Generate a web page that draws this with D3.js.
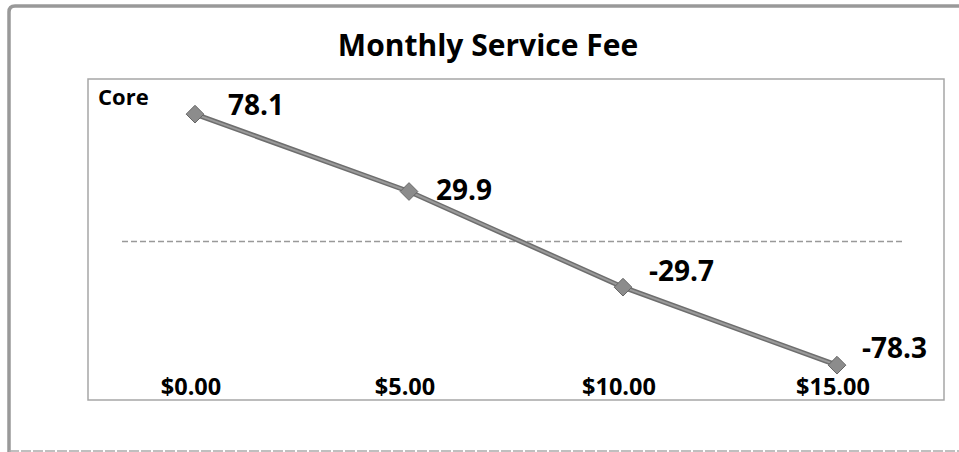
<!DOCTYPE html>
<html>
<head>
<meta charset="utf-8">
<script src="https://cdn.jsdelivr.net/npm/d3@7"></script>
<style>
  body { margin: 0; background: #fff; }
  text { font-family: "Open Sans", sans-serif; font-weight: bold; fill: #000; }
</style>
</head>
<body>
<div id="chart-area"></div>
<script>
// data
var fees = ["$0.00", "$5.00", "$10.00", "$15.00"];
var core = [78.1, 29.9, -29.7, -78.3];
var seriesName = "Core";
var chartTitle = "Monthly Service Fee";
var yDomain = [-100, 100];
var refValue = 0;

// label nudges (layout only)
var labelDx = [33, 27, 26, 25];
var labelDy = [1, 8, -6, -7];

var W = 959, H = 452;
var plot = { left: 88, top: 79, right: 944, bottom: 400 };

var svg = d3.select("#chart-area")
    .append("svg")
    .attr("width", W)
    .attr("height", H);

// outer frame
svg.append("path")
    .attr("d", "M9,452 L9,12 Q9,6 15,6 L959,6")
    .attr("fill", "none")
    .attr("stroke", "#999")
    .attr("stroke-width", 3.5);
svg.append("line")
    .attr("x1", 9).attr("x2", 959)
    .attr("y1", 451).attr("y2", 451)
    .attr("stroke", "#aaa")
    .attr("stroke-width", 1.5)
    .attr("stroke-dasharray", "10,2");

svg.append("text")
    .attr("x", 488)
    .attr("y", 56)
    .attr("font-size", "30px")
    .attr("text-anchor", "middle")
    .text(chartTitle);

// plot area box
svg.append("rect")
    .attr("x", plot.left)
    .attr("y", plot.top)
    .attr("width", plot.right - plot.left)
    .attr("height", plot.bottom - plot.top)
    .attr("fill", "none")
    .attr("stroke", "#a6a6a6")
    .attr("stroke-width", 1.5);

var x = d3.scaleBand()
    .domain(fees)
    .range([plot.left, plot.right])
    .padding(0);

var y = d3.scaleLinear()
    .domain(yDomain)
    .range([plot.bottom, plot.top]);

// reference line
svg.append("line")
    .attr("x1", 122).attr("x2", 902)
    .attr("y1", y(refValue) + 2).attr("y2", y(refValue) + 2)
    .attr("stroke", "#999")
    .attr("stroke-width", 1.5)
    .attr("stroke-dasharray", "6,3");

// x axis labels (no line / ticks)
var xAxis = svg.append("g")
    .attr("transform", "translate(0," + (plot.bottom - 5) + ")")
    .call(d3.axisBottom(x).tickSize(0).tickPadding(0));
xAxis.select(".domain").remove();
xAxis.selectAll("text")
    .attr("y", 0)
    .attr("dy", 0)
    .attr("dx", -4)
    .attr("font-size", "23.5px")
    .attr("font-family", "Open Sans, sans-serif")
    .attr("fill", "#000");

svg.append("text")
    .attr("x", 98)
    .attr("y", 105)
    .attr("font-size", "22px")
    .text(seriesName);

var pts = core.map(function(v, i) {
    return { fee: fees[i], value: v, i: i };
});

var line = d3.line()
    .x(function(d) { return x(d.fee) + x.bandwidth() / 2; })
    .y(function(d) { return y(d.value); });

svg.append("path")
    .datum(pts)
    .attr("d", line)
    .attr("fill", "none")
    .attr("stroke", "#6e6e6e")
    .attr("stroke-width", 5);
svg.append("path")
    .datum(pts)
    .attr("d", line)
    .attr("fill", "none")
    .attr("stroke", "#9a9a9a")
    .attr("stroke-width", 2);

svg.selectAll(".marker")
    .data(pts)
    .enter()
    .append("path")
    .attr("class", "marker")
    .attr("transform", function(d) {
        return "translate(" + (x(d.fee) + x.bandwidth() / 2) + "," + y(d.value) + ")";
    })
    .attr("d", d3.symbol().type(d3.symbolDiamond2).size(200))
    .attr("fill", "#8c8c8c")
    .attr("stroke", "#666")
    .attr("stroke-width", 1);

svg.selectAll(".val")
    .data(pts)
    .enter()
    .append("text")
    .attr("class", "val")
    .attr("x", function(d) { return x(d.fee) + x.bandwidth() / 2 + labelDx[d.i]; })
    .attr("y", function(d) { return y(d.value) + labelDy[d.i]; })
    .attr("font-size", "28px")
    .text(function(d) { return d.value.toFixed(1); });
</script>
</body>
</html>
